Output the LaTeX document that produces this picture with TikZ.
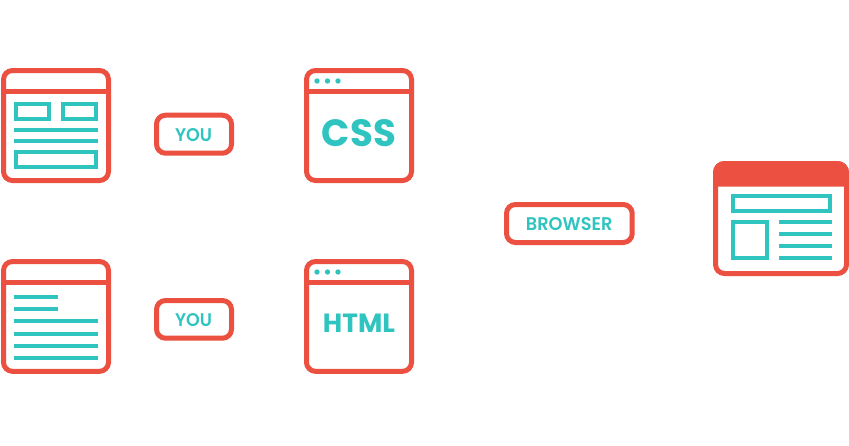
\documentclass[tikz,border=0pt]{standalone}
\usepackage{fontspec}
\usepackage{graphicx}
\setmainfont{Poppins}
\newfontfamily\smallfont{Poppins SemiBold}
\definecolor{cred}{HTML}{EB5040}
\definecolor{cteal}{HTML}{30C4C0}
\newcommand{\fittext}[3]{\resizebox{#1pt}{#2pt}{\bfseries #3}}
\newcommand{\fitsmall}[3]{\resizebox{#1pt}{#2pt}{\smallfont #3}}
\tikzset{
  x=1pt,y=-1pt,
  frame/.style={draw=cred,line width=5pt,rounded corners=9pt,fill=white},
  divider/.style={draw=cred,line width=5pt},
  tealbox/.style={draw=cteal,line width=4pt},
  tealline/.style={draw=cteal,line width=4pt},
  dotmark/.style={fill=cteal,draw=none},
  pill/.style={draw=cred,line width=5pt,rounded corners=9pt,fill=white},
  label/.style={text=cteal,inner sep=0pt,outer sep=0pt,anchor=center},
}
\begin{document}
\begin{tikzpicture}
\useasboundingbox (0,0) rectangle (849,445);
% top-left window
\draw[frame] (3.5,70.5) rectangle (108.5,180.5);
\draw[divider] (3.5,91.7) -- (108.5,91.7);
\draw[tealbox] (16,104) rectangle (49,119);
\draw[tealbox] (63,104) rectangle (96,119);
\draw[tealline] (14,129.7) -- (98,129.7);
\draw[tealline] (14,140.7) -- (98,140.7);
\draw[tealbox] (16,152) rectangle (96,167);
% bottom-left window
\draw[frame] (3.5,261.5) rectangle (108.5,371.3);
\draw[divider] (3.5,282.3) -- (108.5,282.3);
\draw[tealline] (14,296.7) -- (58,296.7);
\draw[tealline] (14,309) -- (58,309);
\draw[tealline] (14,321) -- (98,321);
\draw[tealline] (14,334) -- (98,334);
\draw[tealline] (14,346) -- (98,346);
\draw[tealline] (14,358) -- (98,358);
% YOU pills
\draw[pill] (156.5,115.2) rectangle (231.5,153.2);
\node[label] (you1) at (193.5,134.8) {\fitsmall{37}{13}{YOU}};
\draw[pill] (156.5,300.5) rectangle (231.5,338.2);
\node[label] (you2) at (193.5,319.8) {\fitsmall{37}{13}{YOU}};
% CSS window
\draw[frame] (306.5,70.5) rectangle (411.5,180.5);
\draw[divider] (306.5,91.7) -- (411.5,91.7);
\foreach \dx in {317,327.5,338} \fill[dotmark] (\dx,81) circle (2.7pt);
\node[label] (css) at (359,133.5) {\fittext{74}{27}{CSS}};
% HTML window
\draw[frame] (306.5,261.5) rectangle (411.5,371.3);
\draw[divider] (306.5,282.3) -- (411.5,282.3);
\foreach \dx in {317,327.5,338} \fill[dotmark] (\dx,272) circle (2.7pt);
\node[label] (html) at (359,323.4) {\fittext{72}{18.5}{HTML}};
% BROWSER pill
\draw[pill] (506.5,204.5) rectangle (632.2,242.5);
\node[label] (browser) at (569.2,224.2) {\fitsmall{86.5}{13}{BROWSER}};
% result window
\draw[frame] (715.5,163.5) rectangle (846.5,273.5);
\fill[cred] (713,186.7) [rounded corners=11.5pt] -- (713,161) -- (849,161) [sharp corners] -- (849,186.7) -- cycle;
\draw[tealbox] (733,196) rectangle (830,211);
\draw[tealbox] (733,222) rectangle (767,258);
\draw[tealline] (779,221.7) -- (832,221.7);
\draw[tealline] (779,233.7) -- (832,233.7);
\draw[tealline] (779,245.7) -- (832,245.7);
\draw[tealline] (779,257.7) -- (832,257.7);
\end{tikzpicture}
\end{document}
